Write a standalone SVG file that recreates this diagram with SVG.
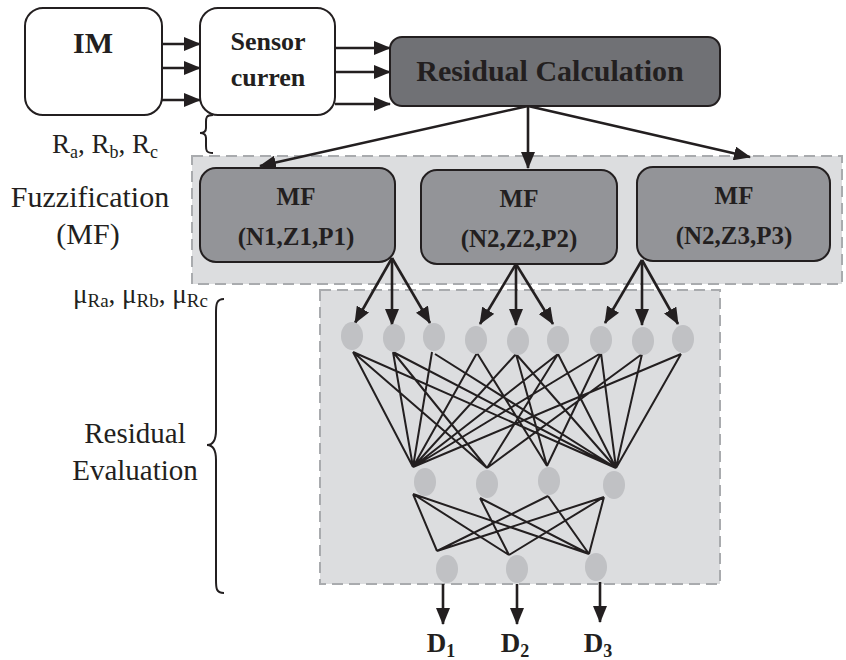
<svg xmlns="http://www.w3.org/2000/svg" width="846" height="660" viewBox="0 0 846 660">
  <style>
    .box { stroke: #231f20; stroke-width: 2; }
    .white { fill: #ffffff; }
    .dark { fill: #707175; }
    .mid { fill: #939498; }
    .zone { fill: #dcdddf; stroke: #a9abae; stroke-width: 2; stroke-dasharray: 11 6; }
    .neuron { fill: #c0c1c4; }
    .bold { font-family: "Liberation Serif", "Times New Roman", serif; font-weight: bold; fill: #231f20; text-anchor: middle; }
    .reg { font-family: "Liberation Serif", "Times New Roman", serif; fill: #231f20; }
    .arrow { stroke: #231f20; stroke-width: 2.6; fill: none; marker-end: url(#head); }
    .web { stroke: #231f20; stroke-width: 2; fill: none; }
    .brace { stroke: #231f20; stroke-width: 2; fill: none; }
  </style>
  <defs>
    <marker id="head" markerUnits="userSpaceOnUse" markerWidth="18" markerHeight="14" refX="16" refY="7" orient="auto">
      <path d="M0,0 L17,7 L0,14 z" fill="#231f20"/>
    </marker>
  </defs>

  <rect width="846" height="660" fill="#ffffff"/>

  <!-- shaded zones -->
  <rect id="zone-fuzz" class="zone" x="192" y="156" width="650" height="128"/>
  <rect id="zone-eval" class="zone" x="320" y="290" width="400" height="294"/>

  <!-- side labels -->
  <g id="label-r">
    <text class="reg" x="52" y="153" font-size="27">R<tspan font-size="18" dy="5">a</tspan><tspan dy="-5">, R</tspan><tspan font-size="18" dy="5">b</tspan><tspan dy="-5">, R</tspan><tspan font-size="18" dy="5">c</tspan></text>
    <path class="brace" d="M213,115 C206,115 206,118 206,122 L206,128 C206,131 204,133 200,133 C204,133 206,135 206,138 L206,146 C206,150 206,153 213,153"/>
  </g>
  <g id="label-fuzz">
    <text class="reg" x="90" y="207" font-size="30" text-anchor="middle">Fuzzification</text>
    <text class="reg" x="88" y="244" font-size="30" text-anchor="middle">(MF)</text>
  </g>
  <g id="label-mu">
    <text class="reg" x="73" y="303" font-size="27">μ<tspan font-size="19" dy="4">Ra</tspan><tspan dy="-4">, μ</tspan><tspan font-size="19" dy="4">Rb</tspan><tspan dy="-4">, μ</tspan><tspan font-size="19" dy="4">Rc</tspan></text>
  </g>
  <g id="label-eval">
    <text class="reg" x="135" y="443" font-size="29" text-anchor="middle">Residual</text>
    <text class="reg" x="135" y="480" font-size="29" text-anchor="middle">Evaluation</text>
    <path class="brace" d="M224,299 C216,299 216,305 216,313 L216,430 C216,440 213,445 207,445 C213,445 216,450 216,460 L216,580 C216,588 216,593 224,593"/>
  </g>

  <!-- connectors -->
  <g id="connectors">
    <path class="arrow" d="M160,44 H200"/>
    <path class="arrow" d="M160,68 H200"/>
    <path class="arrow" d="M160,100 H200"/>
    <path class="arrow" d="M335,48 H390"/>
    <path class="arrow" d="M335,72 H390"/>
    <path class="arrow" d="M335,104 H390"/>

    <path class="arrow" d="M528,106 L260,166"/>
    <path class="arrow" d="M528,106 V168"/>
    <path class="arrow" d="M528,106 L750,157"/>

    <path class="arrow" d="M392,258 L355,323"/>
    <path class="arrow" d="M392,258 V325"/>
    <path class="arrow" d="M392,258 L430,323"/>
    <path class="arrow" d="M516,264 L480,324"/>
    <path class="arrow" d="M516,264 V325"/>
    <path class="arrow" d="M516,264 L553,324"/>
    <path class="arrow" d="M642,260 L605,323"/>
    <path class="arrow" d="M642,260 V325"/>
    <path class="arrow" d="M642,260 L678,324"/>

    <!-- hidden layer 1 to hidden layer 2 -->
    <path class="web" d="M353,352 L413,467 M353,352 L487,468 M353,352 L616,468
                         M393,352 L413,467 M393,352 L487,468 M393,352 L616,468
                         M432,352 L413,467 M435,354 L616,468
                         M477,353 L413,467 M477,353 L547,466
                         M516,354 L413,467 M516,354 L547,466 M516,354 L616,468
                         M558,354 L413,467 M558,354 L487,468 M558,354 L616,468
                         M601,353 L413,467 M601,353 L547,466 M601,353 L616,468
                         M642,354 L487,468 M642,354 L616,468
                         M681,354 L413,467 M681,354 L616,468"/>
    <!-- hidden layer 2 to output layer -->
    <path class="web" d="M413,494 L437,551 M413,494 L509,555 M413,494 L589,554
                         M480,498 L509,555 M480,498 L589,554
                         M548,496 L437,551 M548,496 L589,554
                         M604,497 L437,551 M604,497 L509,555 M604,497 L589,554"/>

    <path class="arrow" d="M443,584 V624"/>
    <path class="arrow" d="M517,584 V624"/>
    <path class="arrow" d="M600,582 V622"/>
  </g>

  <!-- blocks -->
  <g id="im">
    <rect class="box white" x="25" y="8" width="137" height="107" rx="18"/>
    <text class="bold" x="93" y="53" font-size="30">IM</text>
  </g>
  <g id="sensor">
    <rect class="box white" x="200" y="8" width="135" height="107" rx="18"/>
    <text class="bold" x="268" y="50" font-size="26">Sensor</text>
    <text class="bold" x="268" y="86" font-size="26">curren</text>
  </g>
  <g id="residual-calc">
    <rect class="box dark" x="390" y="37" width="330" height="69" rx="12"/>
    <text class="bold" x="550" y="81" font-size="30">Residual Calculation</text>
  </g>
  <g id="mf1">
    <rect class="box mid" x="200" y="168" width="195" height="94" rx="16"/>
    <text class="bold" x="296" y="205" font-size="25">MF</text>
    <text class="bold" x="296" y="245" font-size="25">(N1,Z1,P1)</text>
  </g>
  <g id="mf2">
    <rect class="box mid" x="421" y="170" width="196" height="94" rx="16"/>
    <text class="bold" x="519" y="207" font-size="25">MF</text>
    <text class="bold" x="519" y="247" font-size="25">(N2,Z2,P2)</text>
  </g>
  <g id="mf3">
    <rect class="box mid" x="637" y="167" width="193" height="94" rx="16"/>
    <text class="bold" x="734" y="204" font-size="25">MF</text>
    <text class="bold" x="734" y="244" font-size="25">(N2,Z3,P3)</text>
  </g>

  <!-- neurons -->
  <g id="layer1">
    <ellipse id="h1-1" class="neuron" cx="352" cy="336" rx="11" ry="14"/>
    <ellipse id="h1-2" class="neuron" cx="394" cy="338" rx="11" ry="14"/>
    <ellipse id="h1-3" class="neuron" cx="434" cy="337" rx="11" ry="14"/>
    <ellipse id="h1-4" class="neuron" cx="476" cy="340" rx="11" ry="14"/>
    <ellipse id="h1-5" class="neuron" cx="518" cy="341" rx="11" ry="14"/>
    <ellipse id="h1-6" class="neuron" cx="558" cy="340" rx="11" ry="14"/>
    <ellipse id="h1-7" class="neuron" cx="601" cy="340" rx="11" ry="14"/>
    <ellipse id="h1-8" class="neuron" cx="643" cy="341" rx="11" ry="14"/>
    <ellipse id="h1-9" class="neuron" cx="683" cy="339" rx="11" ry="14"/>
  </g>
  <g id="layer2">
    <ellipse id="h2-1" class="neuron" cx="425" cy="482" rx="11" ry="14"/>
    <ellipse id="h2-2" class="neuron" cx="487" cy="484" rx="11" ry="14"/>
    <ellipse id="h2-3" class="neuron" cx="549" cy="481" rx="11" ry="14"/>
    <ellipse id="h2-4" class="neuron" cx="614" cy="485" rx="11" ry="14"/>
  </g>
  <g id="layer3">
    <ellipse id="out-1" class="neuron" cx="447" cy="569" rx="11" ry="14"/>
    <ellipse id="out-2" class="neuron" cx="517" cy="569" rx="11" ry="14"/>
    <ellipse id="out-3" class="neuron" cx="596" cy="567" rx="11" ry="14"/>
  </g>

  <!-- outputs -->
  <g id="d1"><text class="bold" x="441" y="652" font-size="27">D<tspan font-size="18" dy="5">1</tspan></text></g>
  <g id="d2"><text class="bold" x="515" y="652" font-size="27">D<tspan font-size="18" dy="5">2</tspan></text></g>
  <g id="d3"><text class="bold" x="598" y="652" font-size="27">D<tspan font-size="18" dy="5">3</tspan></text></g>
</svg>
